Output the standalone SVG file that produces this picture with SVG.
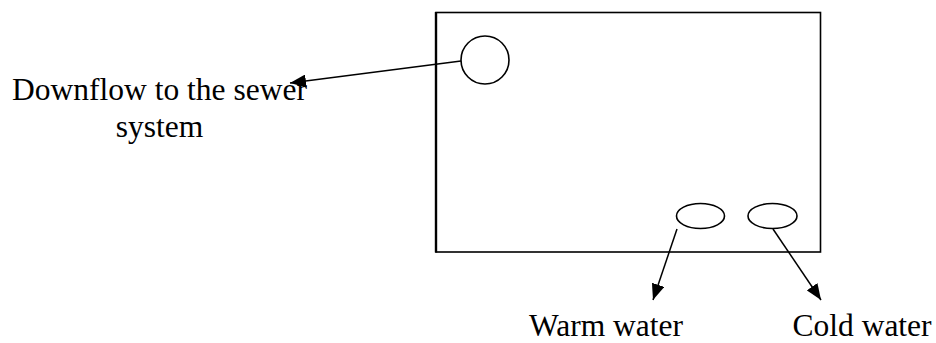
<svg xmlns="http://www.w3.org/2000/svg" width="936" height="343" viewBox="0 0 936 343">
<style>
.shape{fill:none;stroke:#000;stroke-width:1.6}
.conn{fill:none;stroke:#000;stroke-width:1.5}
.lbl{font-family:"Liberation Serif","Times New Roman",serif;font-size:31.5px;fill:#000}
</style>
<defs>
<marker id="ah" markerUnits="userSpaceOnUse" markerWidth="17" markerHeight="13" refX="16" refY="6.5" orient="auto">
<path d="M0,0 L16,6.5 L0,13 Z" fill="#000"/>
</marker>
</defs>
<rect width="936" height="343" fill="#fff"/>
<g id="basin">
<rect x="436" y="12.5" width="384.5" height="239.5" class="shape"/>
<line x1="436" y1="12" x2="436" y2="252.5" stroke="#000" stroke-width="2.4"/>
</g>
<g id="drain"><circle cx="485" cy="60" r="24" class="shape"/></g>
<g id="warm-tap"><ellipse cx="700.5" cy="216" rx="24" ry="12.5" class="shape"/></g>
<g id="cold-tap"><ellipse cx="772.5" cy="216" rx="24.5" ry="12.5" class="shape"/></g>
<g id="connectors">
<line x1="461" y1="61" x2="290" y2="83" class="conn" marker-end="url(#ah)"/>
<line x1="677" y1="229" x2="653" y2="300" class="conn" marker-end="url(#ah)"/>
<line x1="773" y1="229" x2="821" y2="300" class="conn" marker-end="url(#ah)"/>
</g>
<g id="label-downflow">
<text class="lbl" x="159.5" y="100" text-anchor="middle">Downflow to the sewer</text>
<text class="lbl" x="159.5" y="136.5" text-anchor="middle">system</text>
</g>
<g id="label-warm"><text class="lbl" x="529" y="335.5">Warm water</text></g>
<g id="label-cold"><text class="lbl" x="792.5" y="335.5">Cold water</text></g>
</svg>
